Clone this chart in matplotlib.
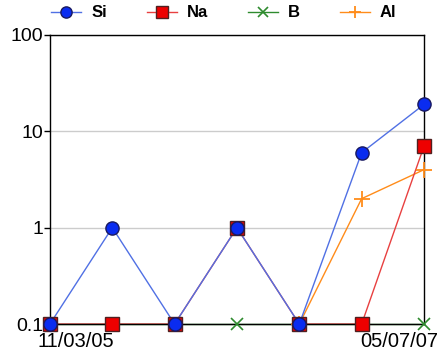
import matplotlib
matplotlib.use("Agg")
import matplotlib.pyplot as plt
import matplotlib.transforms as mtransforms
from matplotlib.lines import Line2D

# data
xLabels = ["11/03/05", "", "", "", "", "", "05/07/07"]
si = [0.1, 1, 0.1, 1, 0.1, 6, 19]
na = [0.1, 0.1, 0.1, 1, 0.1, 0.1, 7]
b = [0.1, 0.1, 0.1, 0.1, 0.1, 0.1, 0.1]
al = [None, None, None, None, 0.1, 2, 4]

plt.rcParams['font.family'] = ['Liberation Sans', 'DejaVu Sans']

fig = plt.figure(figsize=(4.38, 3.53), dpi=100)
ax = fig.add_axes([0.114, 0.082, 0.854, 0.819])
x = list(range(len(xLabels)))

alX = [i for i in x if al[i] is not None]
alY = [v for v in al if v is not None]

# series styles: (name, x, y, line colour, marker kw)
series = [
    ('B', x, b, '#2e8b2e', dict(marker='x', ms=9, mew=1.2, mec='#2e8b2e')),
    ('Al', alX, alY, '#ff8c1a', dict(marker='+', ms=11, mew=1.3, mec='#ff8c1a')),
    ('Na', x, na, '#e84040', dict(marker='s', ms=9.5, mfc='#ee0000', mec='#502020', mew=1)),
    ('Si', x, si, '#5070e4', dict(marker='o', ms=9.5, mfc='#0a2cf0', mec='#1a1a60', mew=1)),
]

handles = {}
z = 4
for name, xs, ys, lc, mk in series:
    # lines under the spines, markers on top
    ax.plot(xs, ys, color=lc, lw=1, zorder=2, clip_on=False)
    ax.plot(xs, ys, ls='none', zorder=z, clip_on=False, **mk)
    z += 1
    handles[name] = Line2D([], [], color=lc, lw=1, **mk)

ax.set_yscale('log')
ax.set_ylim(0.1, 100)
ax.set_xlim(0, len(xLabels) - 1)
ax.set_yticks([0.1, 1, 10, 100])
ax.set_yticklabels(['0.1', '1', '10', '100'])
ax.minorticks_off()
ax.set_xticks(x)
ax.set_xticklabels(xLabels)
ax.tick_params(axis='y', length=4, width=1, direction='out', labelsize=14, pad=1, colors='black')
ax.tick_params(axis='x', length=0, labelsize=14.5, pad=6, colors='black')
ax.yaxis.grid(True, color='#cccccc', lw=1)
ax.set_axisbelow(True)
for s in ax.spines.values():
    s.set_color('black')
    s.set_linewidth(1)
    s.set_zorder(3)

# end date labels sit a bit inward of their ticks
xt = ax.get_xticklabels()
xt[0].set_transform(xt[0].get_transform() + mtransforms.ScaledTranslation(26 / 100, 0, fig.dpi_scale_trans))
xt[-1].set_transform(xt[-1].get_transform() + mtransforms.ScaledTranslation(-25 / 100, 0, fig.dpi_scale_trans))

order = ['Si', 'Na', 'B', 'Al']
ax.legend([handles[n] for n in order], order, ncol=4, loc='center',
          bbox_to_anchor=(0.465, 1 + 22 / 289), frameon=False,
          prop={'weight': 'bold', 'size': 12}, markerscale=0.85,
          handlelength=1.8, columnspacing=2.4, handletextpad=0.6, borderaxespad=0)

fig.savefig('out.png', dpi=100)
